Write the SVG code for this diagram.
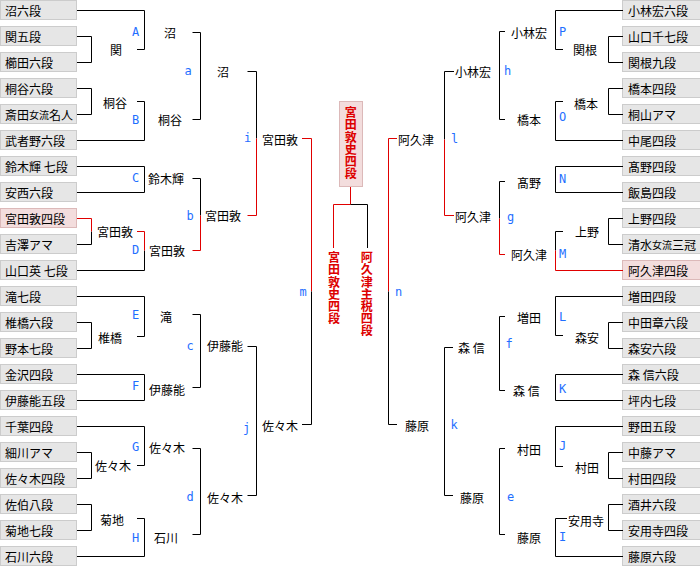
<svg xmlns="http://www.w3.org/2000/svg" width="700" height="567" viewBox="0 0 700 567">
<style>
text{font-family:"Noto Sans CJK JP","Noto Sans CJK SC",sans-serif;font-size:12px;fill:#000;dominant-baseline:central}
.lb{font-family:"DejaVu Sans Mono","Liberation Mono",monospace;font-size:12px;fill:#1f6fff;text-anchor:middle}
.bx{fill:#e6e6e6;stroke:#cccccc;stroke-width:1}
.rbx{fill:#f3dddd;stroke:#dcb9b9;stroke-width:1}
.ln{fill:none;stroke:#000;stroke-width:1}
.rd{fill:none;stroke:#e00000;stroke-width:1}
.ch{fill:#dd0000;font-weight:bold;writing-mode:vertical-rl;text-orientation:upright;letter-spacing:0.2px}
.sm{font-size:10px}
</style>
<rect width="700" height="567" fill="#fff"/>
<g id="left-players">
<g id="L0"><rect class="bx" x="0.5" y="0.5" width="76" height="19"/><text x="5" y="10">沼六段</text></g>
<g id="L1"><rect class="bx" x="0.5" y="26.5" width="76" height="19"/><text x="5" y="36">関五段</text></g>
<g id="L2"><rect class="bx" x="0.5" y="52.5" width="76" height="19"/><text x="5" y="62">櫛田六段</text></g>
<g id="L3"><rect class="bx" x="0.5" y="78.5" width="76" height="19"/><text x="5" y="88">桐谷六段</text></g>
<g id="L4"><rect class="bx" x="0.5" y="104.5" width="76" height="19"/><text x="5" y="114">斎田<tspan class="sm">女流</tspan>名人</text></g>
<g id="L5"><rect class="bx" x="0.5" y="130.5" width="76" height="19"/><text x="5" y="140">武者野六段</text></g>
<g id="L6"><rect class="bx" x="0.5" y="156.5" width="76" height="19"/><text x="5" y="166">鈴木輝 七段</text></g>
<g id="L7"><rect class="bx" x="0.5" y="182.5" width="76" height="19"/><text x="5" y="192">安西六段</text></g>
<g id="L8"><rect class="rbx" x="0.5" y="208.5" width="76" height="19"/><text x="5" y="218">宮田敦四段</text></g>
<g id="L9"><rect class="bx" x="0.5" y="234.5" width="76" height="19"/><text x="5" y="244">吉澤アマ</text></g>
<g id="L10"><rect class="bx" x="0.5" y="260.5" width="76" height="19"/><text x="5" y="270">山口英 七段</text></g>
<g id="L11"><rect class="bx" x="0.5" y="286.5" width="76" height="19"/><text x="5" y="296">滝七段</text></g>
<g id="L12"><rect class="bx" x="0.5" y="312.5" width="76" height="19"/><text x="5" y="322">椎橋六段</text></g>
<g id="L13"><rect class="bx" x="0.5" y="338.5" width="76" height="19"/><text x="5" y="348">野本七段</text></g>
<g id="L14"><rect class="bx" x="0.5" y="364.5" width="76" height="19"/><text x="5" y="374">金沢四段</text></g>
<g id="L15"><rect class="bx" x="0.5" y="390.5" width="76" height="19"/><text x="5" y="400">伊藤能五段</text></g>
<g id="L16"><rect class="bx" x="0.5" y="416.5" width="76" height="19"/><text x="5" y="426">千葉四段</text></g>
<g id="L17"><rect class="bx" x="0.5" y="442.5" width="76" height="19"/><text x="5" y="452">細川アマ</text></g>
<g id="L18"><rect class="bx" x="0.5" y="468.5" width="76" height="19"/><text x="5" y="478">佐々木四段</text></g>
<g id="L19"><rect class="bx" x="0.5" y="494.5" width="76" height="19"/><text x="5" y="504">佐伯八段</text></g>
<g id="L20"><rect class="bx" x="0.5" y="520.5" width="76" height="19"/><text x="5" y="530">菊地七段</text></g>
<g id="L21"><rect class="bx" x="0.5" y="546.5" width="76" height="19"/><text x="5" y="556">石川六段</text></g>
</g>
<g id="right-players">
<g id="R0"><rect class="bx" x="622.5" y="0.5" width="80" height="19"/><text x="628" y="10">小林宏六段</text></g>
<g id="R1"><rect class="bx" x="622.5" y="26.5" width="80" height="19"/><text x="628" y="36">山口千七段</text></g>
<g id="R2"><rect class="bx" x="622.5" y="52.5" width="80" height="19"/><text x="628" y="62">関根九段</text></g>
<g id="R3"><rect class="bx" x="622.5" y="78.5" width="80" height="19"/><text x="628" y="88">橋本四段</text></g>
<g id="R4"><rect class="bx" x="622.5" y="104.5" width="80" height="19"/><text x="628" y="114">桐山アマ</text></g>
<g id="R5"><rect class="bx" x="622.5" y="130.5" width="80" height="19"/><text x="628" y="140">中尾四段</text></g>
<g id="R6"><rect class="bx" x="622.5" y="156.5" width="80" height="19"/><text x="628" y="166">髙野四段</text></g>
<g id="R7"><rect class="bx" x="622.5" y="182.5" width="80" height="19"/><text x="628" y="192">飯島四段</text></g>
<g id="R8"><rect class="bx" x="622.5" y="208.5" width="80" height="19"/><text x="628" y="218">上野四段</text></g>
<g id="R9"><rect class="bx" x="622.5" y="234.5" width="80" height="19"/><text x="628" y="244">清水<tspan class="sm">女流</tspan>三冠</text></g>
<g id="R10"><rect class="rbx" x="622.5" y="260.5" width="80" height="19"/><text x="628" y="270">阿久津四段</text></g>
<g id="R11"><rect class="bx" x="622.5" y="286.5" width="80" height="19"/><text x="628" y="296">増田四段</text></g>
<g id="R12"><rect class="bx" x="622.5" y="312.5" width="80" height="19"/><text x="628" y="322">中田章六段</text></g>
<g id="R13"><rect class="bx" x="622.5" y="338.5" width="80" height="19"/><text x="628" y="348">森安六段</text></g>
<g id="R14"><rect class="bx" x="622.5" y="364.5" width="80" height="19"/><text x="628" y="374">森 信六段</text></g>
<g id="R15"><rect class="bx" x="622.5" y="390.5" width="80" height="19"/><text x="628" y="400">坪内七段</text></g>
<g id="R16"><rect class="bx" x="622.5" y="416.5" width="80" height="19"/><text x="628" y="426">野田五段</text></g>
<g id="R17"><rect class="bx" x="622.5" y="442.5" width="80" height="19"/><text x="628" y="452">中藤アマ</text></g>
<g id="R18"><rect class="bx" x="622.5" y="468.5" width="80" height="19"/><text x="628" y="478">村田四段</text></g>
<g id="R19"><rect class="bx" x="622.5" y="494.5" width="80" height="19"/><text x="628" y="504">酒井六段</text></g>
<g id="R20"><rect class="bx" x="622.5" y="520.5" width="80" height="19"/><text x="628" y="530">安用寺四段</text></g>
<g id="R21"><rect class="bx" x="622.5" y="546.5" width="80" height="19"/><text x="628" y="556">藤原六段</text></g>
</g>
<g id="connectors">
<path class="ln" d="M77,36.5H91.5V62.5H77M77,88.5H91.5V114.5H77M91.5,231.5V244.5H77M77,322.5H91.5V348.5H77M77,452.5H91.5V478.5H77M77,504.5H91.5V530.5H77"/>
<path class="rd" d="M77,218.5H91.5V231.5"/>
<path class="ln" d="M77,10.5H144.5V49.5H137M137,101.5H144.5V140.5H77M77,166.5H144.5V192.5H77M144.5,250.5V270.5H77M77,296.5H144.5V336.5H137M77,374.5H144.5V400.5H77M77,426.5H144.5V465.5H137M137,518.5H144.5V556.5H77"/>
<path class="rd" d="M137,231.5H144.5V250.5"/>
<path class="ln" d="M192.5,32.5H200.5V119.5H192.5M192.5,178.5H200.5V215.5M192.5,314.5H200.5V387.5H192.5M192.5,448.5H200.5V534.5H192.5"/>
<path class="rd" d="M200.5,215.5V250.5H192.5"/>
<path class="ln" d="M247.5,71.5H256.5V138.5M247.5,346.5H256.5V495.5H247.5"/>
<path class="rd" d="M256.5,138.5V215.5H247.5"/>
<path class="rd" d="M302,138.5H311.5V291.5"/>
<path class="ln" d="M311.5,291.5V424.5H302"/>
<path class="ln" d="M623,36.5H608.5V62.5H623M623,88.5H608.5V114.5H623M623,218.5H608.5V244.5H623M623,322.5H608.5V348.5H623M623,452.5H608.5V478.5H623M623,504.5H608.5V530.5H623"/>
<path class="ln" d="M623,10.5H555.5V49.5H563M563,101.5H555.5V140.5H623M623,166.5H555.5V192.5H623M563,231.5H555.5V250.5M623,296.5H555.5V335.5H563M623,374.5H555.5V400.5H623M623,426.5H555.5V466.5H563M567,518.5H555.5V556.5H623"/>
<path class="rd" d="M555.5,250.5V270.5H623"/>
<path class="ln" d="M505,31.5H499.5V119.5H505M505,181.5H499.5V218.5M505,316.5H499.5V390.5H505M505,448.5H499.5V534.5H505"/>
<path class="rd" d="M499.5,218.5V254.5H505"/>
<path class="ln" d="M454,71.5H444.5V139.5M453,347.5H444.5V495.5H453"/>
<path class="rd" d="M444.5,139.5V215.5H454"/>
<path class="rd" d="M397,138.5H388.5V291.5"/>
<path class="ln" d="M388.5,291.5V424.5H397"/>
<path class="rd" d="M350.5,187V204.5H333.5V248"/>
<path class="ln" d="M350.5,204.5H367.5V248"/>
</g>
<g id="match-labels">
<text class="lb" x="135.5" y="32">A</text>
<text class="lb" x="135.5" y="120">B</text>
<text class="lb" x="135.5" y="178">C</text>
<text class="lb" x="135.5" y="250">D</text>
<text class="lb" x="135.5" y="315">E</text>
<text class="lb" x="135.5" y="386">F</text>
<text class="lb" x="135.5" y="447">G</text>
<text class="lb" x="135.5" y="538">H</text>
<text class="lb" x="188" y="71">a</text>
<text class="lb" x="190" y="216">b</text>
<text class="lb" x="190" y="345.5">c</text>
<text class="lb" x="190" y="497">d</text>
<text class="lb" x="247.5" y="138">i</text>
<text class="lb" x="246.5" y="428">j</text>
<text class="lb" x="303" y="291.5">m</text>
<text class="lb" x="562.5" y="32">P</text>
<text class="lb" x="562.5" y="117">O</text>
<text class="lb" x="562.5" y="179">N</text>
<text class="lb" x="562.5" y="254">M</text>
<text class="lb" x="562.5" y="317">L</text>
<text class="lb" x="562.5" y="389">K</text>
<text class="lb" x="562.5" y="446">J</text>
<text class="lb" x="562.5" y="537">I</text>
<text class="lb" x="507.5" y="71">h</text>
<text class="lb" x="510.5" y="217">g</text>
<text class="lb" x="509" y="343.5">f</text>
<text class="lb" x="510.5" y="497">e</text>
<text class="lb" x="454.5" y="139">l</text>
<text class="lb" x="454" y="425">k</text>
<text class="lb" x="398.5" y="291.5">n</text>
</g>
<g id="left-winners">
<text x="110" y="49">関</text>
<text x="164" y="32">沼</text>
<text x="103" y="102">桐谷</text>
<text x="158" y="119">桐谷</text>
<text x="217" y="71">沼</text>
<text x="148" y="178">鈴木輝</text>
<text x="97" y="231">宮田敦</text>
<text x="149" y="250">宮田敦</text>
<text x="205" y="215">宮田敦</text>
<text x="262" y="139">宮田敦</text>
<text x="160" y="316">滝</text>
<text x="98" y="337">椎橋</text>
<text x="149" y="389">伊藤能</text>
<text x="207" y="345.5">伊藤能</text>
<text x="262" y="425">佐々木</text>
<text x="95" y="465">佐々木</text>
<text x="149" y="447">佐々木</text>
<text x="100" y="519">菊地</text>
<text x="154" y="537">石川</text>
<text x="207" y="497">佐々木</text>
</g>
<g id="right-winners">
<text x="511" y="32">小林宏</text>
<text x="573" y="49">関根</text>
<text x="455" y="71">小林宏</text>
<text x="574" y="103">橋本</text>
<text x="517" y="119">橋本</text>
<text x="398" y="139">阿久津</text>
<text x="517" y="182">髙野</text>
<text x="575" y="231.5">上野</text>
<text x="511" y="254">阿久津</text>
<text x="455" y="216">阿久津</text>
<text x="517" y="317">増田</text>
<text x="575" y="337">森安</text>
<text x="513" y="390">森 信</text>
<text x="458" y="347">森 信</text>
<text x="405" y="425">藤原</text>
<text x="517" y="449">村田</text>
<text x="575" y="467">村田</text>
<text x="568" y="520">安用寺</text>
<text x="517" y="537">藤原</text>
<text x="460" y="497">藤原</text>
</g>
<g id="champion">
<rect x="339.5" y="101.5" width="23" height="85" fill="#f3dddd" stroke="#dcb9b9"/>
<text class="ch" x="350.7" y="106.7">宮田敦史四段</text>
</g>
<g id="finalist-left">
<text class="ch" x="334" y="251.7">宮田敦史四段</text>
</g>
<g id="finalist-right">
<text class="ch" x="366.7" y="251.7">阿久津主税四段</text>
</g>
</svg>
